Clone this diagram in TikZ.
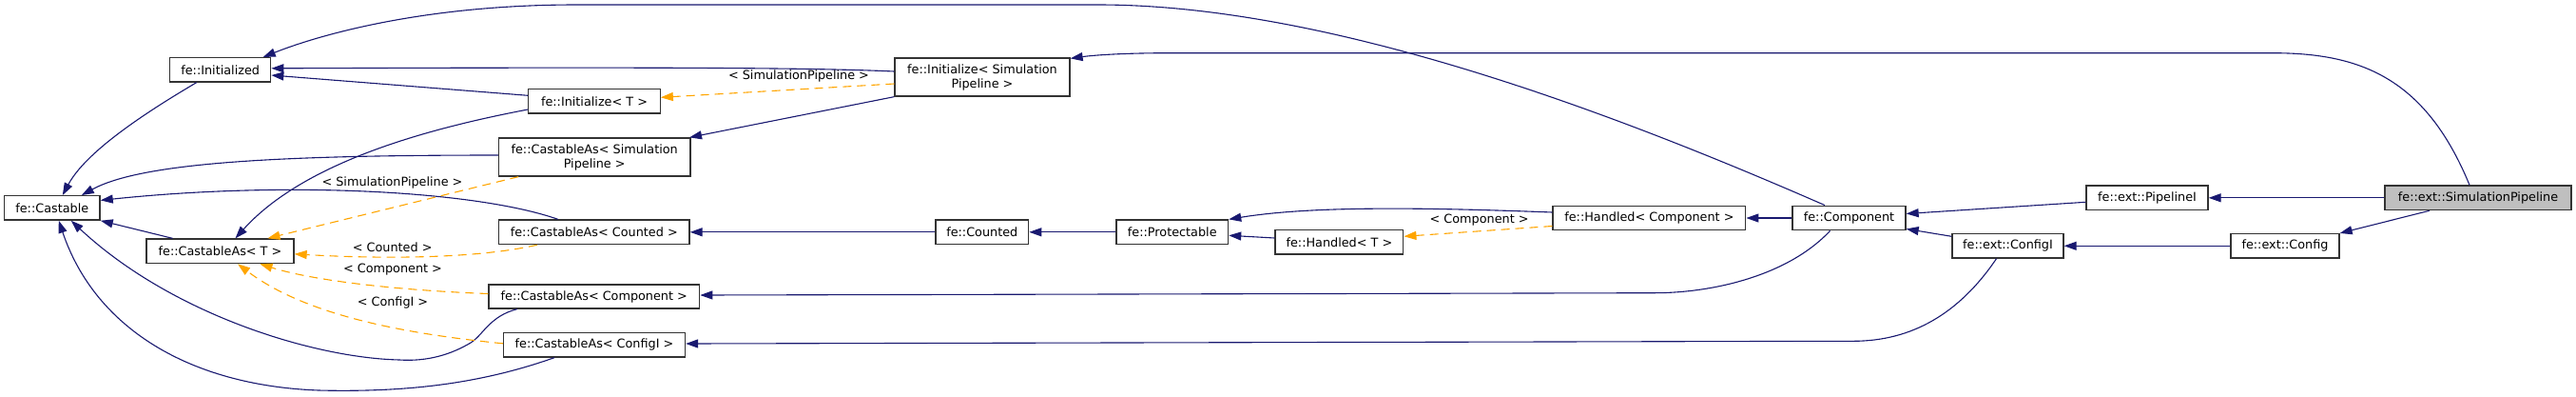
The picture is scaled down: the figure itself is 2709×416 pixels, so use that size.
\documentclass[tikz,border=0pt]{standalone}
\usepackage{fontspec}
\setmainfont{DejaVu Sans}
\usepackage{xcolor}
\usepackage{tikz}
\usetikzlibrary{arrows.meta}

\definecolor{edgeblue}{HTML}{191970}
\definecolor{tplorange}{HTML}{FFA500}
\definecolor{boxgray}{HTML}{BFBFBF}

\begin{document}
\begin{tikzpicture}[
        x=1pt, y=-1pt,
        % class boxes
        classbox/.style={
            rectangle,
            draw=black!80,
            line width=1.3pt,
            fill=white,
            inner sep=0pt,
            align=center,
            font=\fontsize{12.8}{15}\selectfont
        },
        % the class the graph is about
        focusbox/.style={classbox, fill=boxgray},
        % public inheritance
        inherit/.style={
            -{Triangle[length=13pt,width=9pt]},
            line width=1.1pt,
            color=edgeblue
        },
        % template instance
        tplinst/.style={
            -{Triangle[length=13pt,width=9pt]},
            line width=1.1pt,
            dash pattern=on 9pt off 6pt,
            color=tplorange
        },
        edgelabel/.style={
            font=\fontsize{12.8}{15}\selectfont,
            text=black,
            inner sep=0pt
        }
    ]

    \useasboundingbox (0,0) rectangle (2709,416);

    % --- LEFT COLUMN ---
    \node [classbox, minimum width=100.6pt, minimum height=25.4pt] (castable) at (54.8,218.4) {fe::Castable};
    \node [classbox, minimum width=106pt, minimum height=25.4pt] (init) at (231.7,73.3) {fe::Initialized};
    \node [classbox, minimum width=155pt, minimum height=25.6pt] (castT) at (231.5,263.8) {fe::CastableAs< T >};

    % --- TEMPLATE INSTANCES ---
    \node [classbox, minimum width=138.4pt, minimum height=25.4pt] (initT) at (625,106.3) {fe::Initialize< T >};
    \node [classbox, minimum width=201.4pt, minimum height=40pt] (castSim) at (625.2,165) {fe::CastableAs< Simulation\\Pipeline >};
    \node [classbox, minimum width=200.5pt, minimum height=25.6pt] (castCounted) at (624.8,243.8) {fe::CastableAs< Counted >};
    \node [classbox, minimum width=221.7pt, minimum height=25pt] (castComp) at (624.8,311.5) {fe::CastableAs< Component >};
    \node [classbox, minimum width=191pt, minimum height=25.4pt] (castConfig) at (625,362.3) {fe::CastableAs< ConfigI >};
    \node [classbox, minimum width=184pt, minimum height=40pt] (initSim) at (1033,81) {fe::Initialize< Simulation\\Pipeline >};

    % --- MIDDLE ---
    \node [classbox, minimum width=97.7pt, minimum height=25.6pt] (counted) at (1032.8,243.8) {fe::Counted};
    \node [classbox, minimum width=117.6pt, minimum height=25.6pt] (protect) at (1232.8,243.8) {fe::Protectable};
    \node [classbox, minimum width=134.8pt, minimum height=25.4pt] (handledT) at (1408.4,254.3) {fe::Handled< T >};
    \node [classbox, minimum width=202.7pt, minimum height=25.6pt] (handledComp) at (1734.4,229) {fe::Handled< Component >};
    \node [classbox, minimum width=119pt, minimum height=25.6pt] (comp) at (1944.5,229) {fe::Component};

    % --- RIGHT ---
    \node [classbox, minimum width=128pt, minimum height=25.6pt] (pipeI) at (2258,207.8) {fe::ext::PipelineI};
    \node [classbox, minimum width=117pt, minimum height=25.4pt] (configI) at (2111.5,258.3) {fe::ext::ConfigI};
    \node [classbox, minimum width=114pt, minimum height=25.4pt] (config) at (2403,258.3) {fe::ext::Config};
    \node [focusbox, minimum width=196pt, minimum height=25.6pt] (simPipe) at (2606,207.8) {fe::ext::SimulationPipeline};

    % --- INHERITANCE ---
    \draw [inherit] ([xshift=-25pt]init.south) .. controls (150,120) and (90,160) .. ([xshift=11pt]castable.north);
    \draw [inherit] ([xshift=-50pt]castT.north) -- (castable.south east);
    \draw [inherit] ([yshift=2pt]castSim.west) .. controls (300,163) and (150,170) .. ([xshift=31pt]castable.north);
    \draw [inherit] ([xshift=-38pt]castCounted.north) .. controls (500,200) and (300,190) .. ([yshift=8pt]castable.east);
    \draw [inherit] ([xshift=-81pt]castComp.south) .. controls (515,332) and (508,352) .. (495,360)
        .. controls (475,372) and (450,380) .. (420,378)
        .. controls (330,376) and (180,330) .. ([xshift=20pt]castable.south);
    \draw [inherit] ([xshift=-42pt]castConfig.south) .. controls (500,405) and (420,412) .. (335,410)
        .. controls (200,405) and (100,345) .. ([xshift=7pt]castable.south);
    \draw [inherit] ([yshift=6pt]initT.west) -- ([yshift=-5.7pt]init.east);
    \draw [inherit] ([yshift=6pt]initSim.west) .. controls (850,71) and (700,70.5) .. ([yshift=1.5pt]init.east);
    \draw [inherit] ([xshift=-25.5pt]comp.north) .. controls (1700,120) and (1400,5) .. (1155,5)
        -- (606,5) .. controls (450,5) and (340,35) .. ([xshift=45pt]init.north);
    \draw [inherit] ([yshift=-8.7pt]initT.west) .. controls (450,135) and (320,170) .. ([xshift=16pt]castT.north);
    \draw [inherit] (initSim.south west) -- ([xshift=-1.5pt]castSim.north east);
    \draw [inherit] (counted.west) -- (castCounted.east);
    \draw [inherit] (protect.west) -- (counted.east);
    \draw [inherit] ([yshift=6pt]handledComp.west) .. controls (1500,218) and (1380,216) .. (protect.north east);
    \draw [inherit] ([yshift=4.3pt]handledT.west) -- ([yshift=-3.5pt]protect.east);
    \draw [inherit] (comp.west) -- (handledComp.east);
    \draw [inherit] ([xshift=-20pt]comp.south) .. controls (1880,290) and (1800,307.7) .. (1740,307.7)
        -- ([yshift=1.5pt]castComp.east);
    \draw [inherit] ([xshift=-12pt]configI.south) .. controls (2060,330) and (2010,358) .. (1950,358.3)
        -- ([yshift=1.3pt]castConfig.east);
    \draw [inherit] ([yshift=-4.5pt]pipeI.west) -- ([yshift=4.5pt]comp.east);
    \draw [inherit] ([yshift=10pt]configI.west) -- ([yshift=2pt]comp.south east);
    \draw [inherit] (simPipe.west) -- (pipeI.east);
    \draw [inherit] (config.west) -- (configI.east);
    \draw [inherit] ([xshift=-51pt]simPipe.south) -- (config.north east);
    \draw [inherit] ([xshift=-9pt]simPipe.north) .. controls (2550,80) and (2480,55.7) .. (2390,55.7)
        -- (1230,55.7) .. controls (1180,55.7) and (1150,58) .. ([yshift=-1pt]initSim.north east);

    % --- TEMPLATE ARGUMENTS ---
    \draw [tplinst] ([yshift=-7pt]initSim.west) -- ([yshift=4pt]initT.east);
    \draw [tplinst] ([xshift=-80pt]castSim.south) -- ([xshift=50pt]castT.north);
    \draw [tplinst] ([xshift=-60pt]castCounted.south) .. controls (500,272) and (400,272) .. ([yshift=-3pt]castT.east);
    \draw [tplinst] ([yshift=3pt]castComp.west) .. controls (420,305) and (330,295) .. ([xshift=42pt]castT.south);
    \draw [tplinst] ([yshift=1.5pt]castConfig.west) .. controls (420,350) and (320,330) .. ([xshift=18.5pt]castT.south);
    \draw [tplinst] ([yshift=-8.5pt]handledComp.west) -- ([yshift=6pt]handledT.east);

    \node [edgelabel] (lblInitSim) at (840,80) {< SimulationPipeline >};
    \node [edgelabel] (lblCastSim) at (412.5,191.7) {< SimulationPipeline >};
    \node [edgelabel] (lblCounted) at (412.7,259.3) {< Counted >};
    \node [edgelabel] (lblCastComp) at (413,282.7) {< Component >};
    \node [edgelabel] (lblConfigI) at (413,318.3) {< ConfigI >};
    \node [edgelabel] (lblHandled) at (1555.6,230.7) {< Component >};

\end{tikzpicture}
\end{document}
